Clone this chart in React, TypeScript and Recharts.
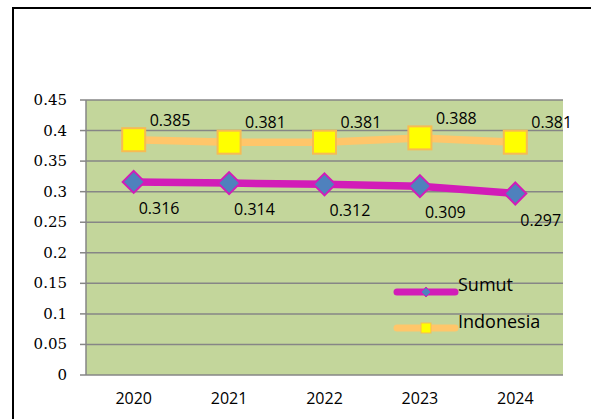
import React from 'react';
import { LineChart, Line, XAxis, YAxis, CartesianGrid, LabelList, Legend } from 'recharts';

const years = ['2020', '2021', '2022', '2023', '2024'];
const sumut = [0.316, 0.314, 0.312, 0.309, 0.297];
const indonesia = [0.385, 0.381, 0.381, 0.388, 0.381];
const yTicks = [0, 0.05, 0.1, 0.15, 0.2, 0.25, 0.3, 0.35, 0.4, 0.45];
const boundaryTicks = [-0.5, 0.5, 1.5, 2.5, 3.5, 4.5];
const centerTicks = [0, 1, 2, 3, 4];
const seriesNames = ['Sumut', 'Indonesia'];

const data = years.map((year, i) => ({ x: i, year, sumut: sumut[i], indonesia: indonesia[i] }));

const MAGENTA = '#D21CB8';
const BLUE = '#4F81BD';
const ORANGE = '#FFC66A';
const ORANGE_EDGE = '#F7BB52';
const YELLOW = '#FFFF00';
const GRID = '#868686';
const SANS = '"Open Sans", "Noto Sans", sans-serif';

const Diamond = (props: any) => {
  const { cx, cy } = props;
  if (cx == null || cy == null) return null;
  const r = 11;
  return (
    <polygon
      points={`${cx},${cy - r} ${cx + r},${cy} ${cx},${cy + r} ${cx - r},${cy}`}
      fill={BLUE}
      stroke={MAGENTA}
      strokeWidth={2}
    />
  );
};

const Square = (props: any) => {
  const { cx, cy } = props;
  if (cx == null || cy == null) return null;
  const h = 11.5;
  return <rect x={cx - h} y={cy - h} width={h * 2} height={h * 2} fill={YELLOW} stroke={ORANGE_EDGE} strokeWidth={2} />;
};

const SumutLabel = (props: any) => {
  const { x, y, value } = props;
  return (
    <text x={x + 5} y={y + 32} fontFamily={SANS} fontSize={16} fill="#000">
      {value.toFixed(3)}
    </text>
  );
};

const IndoLabel = (props: any) => {
  const { x, y, value } = props;
  return (
    <text x={x + 16} y={y - 14} fontFamily={SANS} fontSize={16} fill="#000">
      {value.toFixed(3)}
    </text>
  );
};

const LegendContent = () => (
  <svg width={200} height={75} style={{ display: 'block', overflow: 'visible' }}>
    <line x1={7} y1={24} x2={65} y2={24} stroke={MAGENTA} strokeWidth={7} strokeLinecap="round" />
    <polygon points="36,19 41,24 36,29 31,24" fill={BLUE} stroke={MAGENTA} strokeWidth={1} />
    <text x={68} y={22.5} fontFamily={SANS} fontSize={18} fill="#000">{seriesNames[0]}</text>
    <line x1={7} y1={60} x2={65} y2={60} stroke={ORANGE} strokeWidth={7} strokeLinecap="round" />
    <rect x={31} y={55} width={10} height={10} fill={YELLOW} stroke={ORANGE_EDGE} strokeWidth={1} />
    <text x={68} y={59.5} fontFamily={SANS} fontSize={18} fill="#000">{seriesNames[1]}</text>
  </svg>
);

const YTick = (props: any) => {
  const { x, y, payload } = props;
  return (
    <text x={x} y={y} dy={5} textAnchor="end" fontFamily='"DejaVu Serif", serif' fontSize={15} fill="#000">
      {String(payload.value)}
    </text>
  );
};

export default function App() {
  return (
    <div style={{ position: 'absolute', left: 0, top: 0, width: 591, height: 419, overflow: 'hidden', background: '#fff' }}>
      <div
        style={{
          position: 'absolute',
          left: 12,
          top: 7,
          width: 700,
          height: 600,
          borderLeft: '2px solid #000',
          borderTop: '2px solid #000',
        }}
      />
      <div style={{ position: 'absolute', left: 0, top: 0 }}>
        <LineChart width={591} height={419} data={data} margin={{ top: 100, right: 28, left: 26, bottom: 0 }}>
          <CartesianGrid xAxisId="ticks" vertical={false} horizontal fill="#C3D69B" fillOpacity={1} stroke={GRID} strokeWidth={1.5} />
          <XAxis
            xAxisId="ticks"
            type="number"
            dataKey="x"
            domain={[-0.5, 4.5]}
            ticks={boundaryTicks}
            interval={0}
            height={0}
            tick={false}
            tickSize={5}
            tickLine={{ stroke: GRID, strokeWidth: 1.5 }}
            axisLine={{ stroke: GRID, strokeWidth: 1.5 }}
          />
          <XAxis
            xAxisId="labels"
            type="number"
            dataKey="x"
            domain={[-0.5, 4.5]}
            ticks={centerTicks}
            interval={0}
            height={44}
            tickSize={0}
            tickMargin={18}
            tickLine={false}
            axisLine={false}
            tickFormatter={(v: number) => years[v]}
            tick={{ fontFamily: SANS, fontSize: 16, fill: '#000' }}
          />
          <YAxis
            type="number"
            domain={[0, 0.45]}
            ticks={yTicks}
            interval={0}
            width={60}
            tickSize={6}
            tickMargin={13}
            tick={<YTick />}
            tickLine={{ stroke: GRID, strokeWidth: 1.5 }}
            axisLine={{ stroke: GRID, strokeWidth: 1.5 }}
          />
          <Legend
            layout="horizontal"
            verticalAlign="middle"
            align="center"
            content={<LegendContent />}
            wrapperStyle={{ position: 'absolute', left: 390, top: 268, width: 200, height: 75 }}
          />
          <Line
            xAxisId="ticks"
            dataKey="indonesia"
            name="Indonesia"
            stroke={ORANGE}
            strokeWidth={7.5}
            dot={<Square />}
            activeDot={false}
            isAnimationActive={false}
          >
            <LabelList dataKey="indonesia" content={<IndoLabel />} />
          </Line>
          <Line
            xAxisId="ticks"
            dataKey="sumut"
            name="Sumut"
            stroke={MAGENTA}
            strokeWidth={7.5}
            dot={<Diamond />}
            activeDot={false}
            isAnimationActive={false}
          >
            <LabelList dataKey="sumut" content={<SumutLabel />} />
          </Line>
        </LineChart>
      </div>
    </div>
  );
}
